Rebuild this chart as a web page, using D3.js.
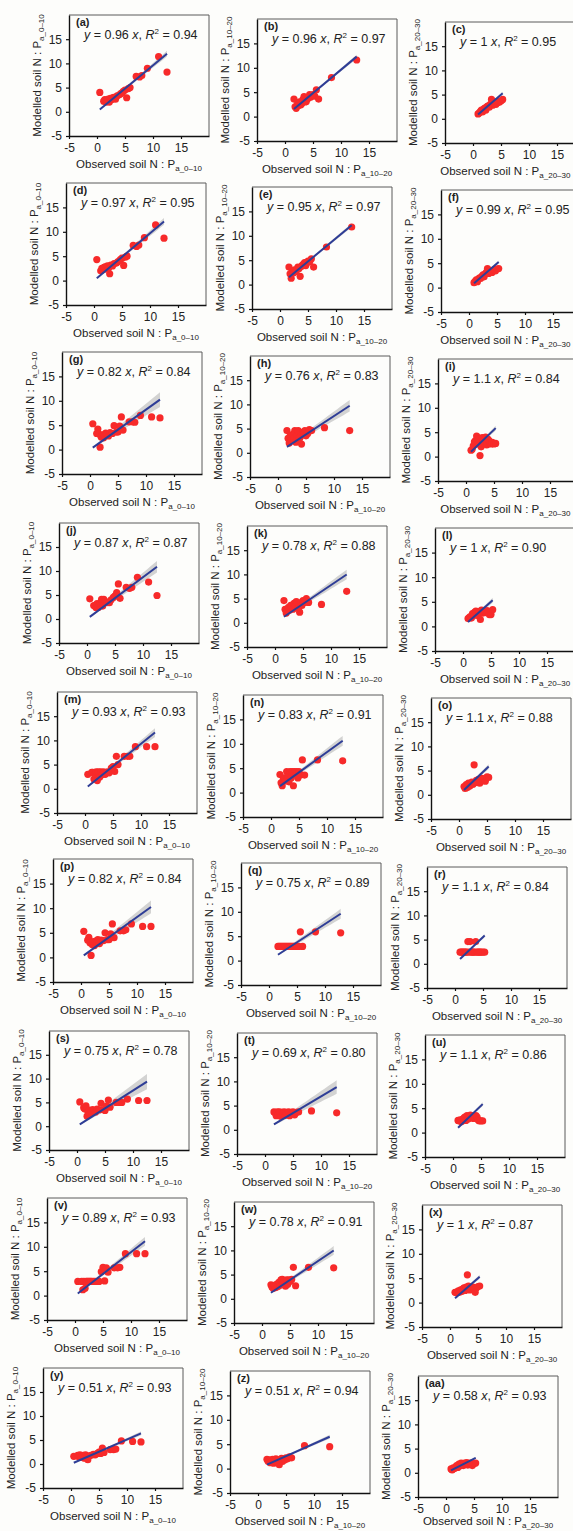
<!DOCTYPE html>
<html>
<head>
<meta charset="utf-8">
<script src="https://cdn.jsdelivr.net/npm/d3@7"></script>
<style>
  html, body { margin: 0; padding: 0; background: #fdfdfb; }
  svg { display: block; font-family: "Liberation Sans", Arial, Helvetica, sans-serif; }
</style>
</head>
<body>
<svg id="chart" width="573" height="1531"></svg>
<script>
// Observed soil N:P for the three sampling depths (cm)
const observed0to10  = [0.5, 1.2, 1.4, 1.6, 1.8, 2.0, 2.2, 2.4, 2.6, 2.8, 3.0, 3.3, 3.6, 4.0, 4.3, 4.7, 5.0, 5.3, 5.6, 5.9, 7.0, 7.6, 8.0, 9.0, 11.0, 12.5];
const observed10to20 = [1.6, 1.8, 2.0, 2.2, 2.4, 2.6, 2.8, 3.0, 3.2, 3.4, 3.6, 3.8, 4.0, 4.2, 4.4, 4.6, 4.8, 5.0, 5.3, 5.6, 6.0, 8.3, 12.8];
const observed20to30 = [0.9, 1.1, 1.3, 1.5, 1.7, 1.9, 2.1, 2.3, 2.5, 2.7, 2.9, 3.1, 3.3, 3.5, 3.7, 3.9, 4.1, 4.3, 4.5, 4.7, 5.0, 5.3];

// Modelled soil N:P, one array per panel
const modelledA  = [4.0, 2.2, 2.5, 2.0, 2.4, 2.6, 2.0, 2.8, 2.5, 2.9, 3.0, 2.6, 3.3, 3.5, 3.8, 4.2, 4.5, 2.9, 4.8, 5.0, 7.3, 7.2, 7.5, 9.0, 11.4, 8.2];
const modelledB  = [3.6, 2.0, 1.7, 2.5, 2.2, 3.0, 2.4, 2.7, 3.5, 4.1, 3.0, 3.1, 3.6, 3.8, 4.5, 4.0, 4.3, 4.5, 4.2, 5.5, 3.6, 8.0, 11.6];
const modelledC  = [1.0, 1.2, 1.5, 1.8, 1.4, 2.0, 2.2, 1.8, 2.5, 2.7, 2.4, 3.0, 4.0, 2.8, 3.2, 3.5, 3.0, 3.3, 3.6, 3.4, 3.7, 4.0];
const modelledD  = [4.3, 2.0, 2.5, 2.2, 2.7, 2.8, 2.4, 3.0, 2.6, 1.4, 3.2, 3.0, 3.5, 3.6, 3.9, 4.3, 4.6, 3.1, 4.8, 5.0, 7.2, 7.0, 7.3, 8.8, 11.4, 8.7];
const modelledE  = [3.6, 2.2, 1.3, 2.6, 2.4, 3.0, 2.7, 3.0, 3.6, 3.3, 1.7, 3.7, 4.0, 4.2, 4.5, 3.9, 4.5, 4.8, 4.7, 5.3, 3.6, 7.7, 11.8];
const modelledF  = [1.0, 1.3, 1.6, 1.2, 1.8, 2.0, 1.9, 2.3, 2.6, 2.2, 2.8, 3.1, 3.9, 2.9, 3.3, 3.4, 3.1, 3.5, 3.7, 3.4, 3.8, 3.9];
const modelledG  = [5.3, 3.3, 4.2, 3.2, 0.5, 2.6, 3.0, 2.4, 2.9, 3.4, 3.2, 2.8, 3.5, 3.3, 4.9, 3.6, 3.6, 4.8, 6.7, 4.0, 5.7, 5.7, 5.6, 7.0, 6.7, 6.5];
const modelledH  = [4.6, 3.0, 2.0, 3.5, 2.5, 3.8, 3.0, 4.6, 2.2, 3.5, 4.6, 2.8, 3.3, 1.8, 4.2, 3.8, 4.6, 3.5, 4.0, 4.8, 4.6, 5.2, 4.6];
const modelledI  = [1.3, 1.5, 2.2, 3.0, 3.3, 4.2, 2.6, 3.6, 0.2, 2.0, 3.9, 2.9, 3.5, 4.0, 2.4, 3.6, 3.3, 2.8, 2.6, 2.9, 2.6, 2.7];
const modelledJ  = [4.2, 2.8, 2.7, 2.4, 3.2, 2.4, 2.9, 3.3, 4.1, 2.7, 4.1, 3.6, 3.4, 3.4, 4.0, 4.5, 4.8, 5.5, 7.3, 4.3, 6.6, 6.4, 6.6, 8.7, 7.7, 4.9];
const modelledK  = [4.6, 2.8, 2.0, 2.4, 3.2, 2.6, 3.6, 3.0, 2.8, 4.0, 3.4, 4.4, 4.2, 3.0, 2.2, 4.0, 3.6, 4.6, 4.2, 5.0, 4.2, 3.8, 6.5];
const modelledL  = [1.6, 1.8, 2.0, 1.7, 2.6, 2.2, 2.9, 3.1, 2.5, 2.2, 3.0, 1.4, 3.3, 2.7, 3.0, 3.1, 2.8, 3.2, 2.9, 2.4, 2.4, 3.4];
const modelledM  = [3.0, 3.4, 3.4, 2.0, 3.0, 3.5, 1.7, 3.5, 2.4, 3.5, 2.9, 3.5, 3.0, 3.5, 3.3, 4.3, 4.6, 3.6, 6.7, 5.0, 6.7, 6.7, 6.7, 8.7, 8.7, 8.7];
const modelledN  = [3.7, 2.0, 1.4, 2.6, 3.0, 2.4, 4.3, 3.3, 2.2, 4.3, 3.0, 4.3, 1.4, 4.3, 3.6, 4.3, 3.0, 4.3, 3.6, 6.7, 3.6, 6.7, 6.5];
const modelledO  = [1.7, 1.3, 2.1, 1.5, 2.4, 1.8, 2.0, 2.6, 2.2, 6.2, 2.5, 3.0, 2.7, 3.2, 2.4, 2.9, 3.4, 3.0, 3.3, 2.8, 3.7, 3.6];
const modelledP  = [5.3, 3.5, 4.1, 3.0, 0.4, 2.6, 3.2, 2.4, 3.3, 3.0, 3.6, 2.8, 3.5, 3.4, 5.0, 3.6, 3.6, 4.8, 6.8, 4.0, 5.4, 5.4, 5.6, 6.8, 6.3, 6.3];
const modelledQ  = [2.9, 2.9, 2.9, 2.9, 2.9, 2.9, 2.9, 2.9, 2.9, 2.9, 2.9, 2.9, 2.9, 2.9, 2.9, 2.9, 2.9, 2.9, 2.9, 5.9, 2.9, 5.9, 5.7];
const modelledR  = [2.4, 2.4, 2.4, 2.4, 2.4, 2.4, 2.4, 4.6, 2.4, 4.6, 2.4, 2.4, 2.4, 2.4, 4.6, 2.4, 2.4, 2.4, 2.4, 2.4, 2.4, 2.4];
const modelledS  = [5.1, 3.9, 3.6, 4.3, 2.1, 3.0, 3.4, 2.6, 3.1, 3.5, 3.3, 3.0, 3.6, 3.4, 4.8, 3.5, 3.3, 4.2, 5.5, 4.0, 5.0, 5.0, 5.0, 5.7, 5.4, 5.4];
const modelledT  = [3.7, 3.5, 2.9, 3.7, 3.2, 3.7, 2.8, 3.6, 3.4, 3.7, 3.0, 3.6, 3.3, 3.7, 2.9, 3.6, 3.4, 3.7, 3.1, 3.6, 3.7, 3.9, 3.5];
const modelledU  = [2.5, 2.4, 2.6, 2.2, 2.7, 2.9, 3.2, 2.5, 3.5, 2.8, 3.3, 3.6, 3.0, 3.4, 2.9, 3.1, 3.5, 3.2, 2.6, 2.4, 2.4, 2.4];
const modelledV  = [2.9, 2.9, 1.2, 2.9, 1.5, 2.9, 2.9, 2.9, 2.9, 2.9, 2.9, 2.9, 2.9, 2.9, 2.9, 4.9, 5.8, 3.0, 5.7, 4.8, 5.7, 5.7, 5.8, 8.6, 8.6, 8.6];
const modelledW  = [2.9, 2.4, 2.2, 2.8, 2.3, 3.0, 2.5, 3.4, 2.8, 3.9, 4.0, 3.3, 3.8, 2.6, 3.9, 3.0, 3.9, 3.6, 4.0, 6.5, 2.7, 6.5, 6.4];
const modelledX  = [2.1, 2.0, 2.2, 2.4, 2.1, 2.6, 2.3, 2.8, 3.0, 2.5, 3.2, 5.7, 3.4, 2.6, 3.0, 2.8, 3.2, 2.9, 2.1, 3.0, 3.3, 3.4];
const modelledY  = [1.6, 1.8, 1.5, 1.9, 1.4, 1.7, 1.8, 1.2, 1.9, 1.5, 0.9, 1.7, 1.8, 2.0, 1.9, 2.2, 2.5, 2.2, 3.3, 2.4, 3.0, 3.0, 3.1, 4.8, 4.7, 4.6];
const modelledZ  = [1.9, 1.5, 1.8, 1.2, 1.4, 1.9, 1.1, 1.6, 2.0, 1.3, 1.8, 0.8, 1.6, 2.1, 1.5, 2.0, 1.8, 2.2, 2.0, 2.4, 2.2, 4.7, 4.5];
const modelledAA = [0.8, 0.6, 1.0, 0.9, 1.2, 1.5, 1.1, 1.8, 1.4, 2.0, 1.7, 1.5, 2.0, 1.8, 2.1, 1.6, 1.9, 2.0, 1.8, 1.5, 1.9, 2.0];

// Panel ids, fitted slopes (y = b x) and R² as printed
const panelIds = ["a","b","c","d","e","f","g","h","i","j","k","l","m","n","o","p","q","r","s","t","u","v","w","x","y","z","aa"];
const slopes   = ["0.96","0.96","1","0.97","0.95","0.99","0.82","0.76","1.1","0.87","0.78","1","0.93","0.83","1.1","0.82","0.75","1.1","0.75","0.69","1.1","0.89","0.78","1","0.51","0.51","0.58"];
const rSquared = ["0.94","0.97","0.95","0.95","0.97","0.95","0.84","0.83","0.84","0.87","0.88","0.90","0.93","0.91","0.88","0.84","0.89","0.84","0.78","0.80","0.86","0.93","0.91","0.87","0.93","0.94","0.93"];
// Half-width of the grey confidence band at the largest observed value
const bandHalfWidth = [0.6,0.4,0.3, 0.7,0.4,0.3, 1.5,1.2,0.5, 1.2,1.0,0.5, 0.9,1.0,0.5, 1.3,1.0,0.3, 1.6,1.4,0.4, 0.9,0.9,0.4, 0.4,0.4,0.2];

const depthSubscripts = ["a_0–10", "a_10–20", "a_20–30"];
const tickValues = [-5, 0, 5, 10, 15];

const observedByDepth = [observed0to10, observed10to20, observed20to30];
const modelledByPanel = [modelledA, modelledB, modelledC, modelledD, modelledE, modelledF, modelledG, modelledH, modelledI,
  modelledJ, modelledK, modelledL, modelledM, modelledN, modelledO, modelledP, modelledQ, modelledR,
  modelledS, modelledT, modelledU, modelledV, modelledW, modelledX, modelledY, modelledZ, modelledAA];

// Layout: left axis x, top edge y, bottom axis y for each panel
const frames = [
  [69, 15, 136], [257, 19, 141], [445, 22, 143],
  [66, 183, 305], [252, 187, 309], [441, 190, 312],
  [62, 352, 474], [250, 356, 477], [438, 359, 481],
  [59, 523, 643], [247, 526, 647], [435, 528, 651],
  [57, 692, 813], [243, 695, 817], [431, 698, 819],
  [53, 859, 982], [241, 863, 985], [427, 867, 988],
  [49, 1031, 1150], [237, 1033, 1154], [425, 1035, 1157],
  [47, 1198, 1320], [234, 1202, 1323], [422, 1205, 1327],
  [43, 1368, 1488], [230, 1371, 1493], [418, 1376, 1497]
];
const panelWidth = 140;
const pageWidth = 573, pageHeight = 1531;

const svg = d3.select("#chart");
const fmt = d => String(d);

panelIds.forEach((id, i) => {
  const [left, top, bottom] = frames[i];
  const col = i % 3;
  const obs = observedByDepth[col];
  const mod = modelledByPanel[i];
  const b = +slopes[i];

  const x = d3.scaleLinear().domain([-5, 20]).range([left, left + panelWidth]);
  const y = d3.scaleLinear().domain([-5, 20]).range([bottom, top]);
  const g = svg.append("g").attr("class", "panel panel-" + id);

  // top and right frame
  g.append("path")
    .attr("d", `M${left},${top}H${left + panelWidth}V${bottom}`)
    .attr("fill", "none").attr("stroke", "#5a5a5a").attr("stroke-width", 1);

  // confidence band and fitted line through the origin
  const [xmin, xmax] = d3.extent(obs);
  const hw = bandHalfWidth[i];
  const xs = d3.range(0, 21).map(k => xmin + (xmax - xmin) * k / 20);
  const band = d3.area()
    .x(v => x(v))
    .y0(v => y(b * v - hw * v / xmax))
    .y1(v => y(b * v + hw * v / xmax));
  g.append("path").datum(xs).attr("d", band)
    .attr("fill", "#c4c4c4").attr("fill-opacity", 0.75);

  g.selectAll("circle").data(obs.map((v, k) => [v, mod[k]])).join("circle")
    .attr("cx", d => x(d[0])).attr("cy", d => y(d[1])).attr("r", 3.6)
    .attr("fill", "#f72a2a");

  g.append("path").datum([xmin, xmax])
    .attr("d", d3.line().x(v => x(v)).y(v => y(b * v)))
    .attr("stroke", "#2e3d96").attr("stroke-width", 2).attr("fill", "none");

  // axes
  const ax = g.append("g").attr("transform", `translate(0,${bottom})`)
    .call(d3.axisBottom(x).tickValues(tickValues).tickFormat(fmt).tickSize(3).tickSizeOuter(0).tickPadding(4));
  const ay = g.append("g").attr("transform", `translate(${left},0)`)
    .call(d3.axisLeft(y).tickValues(tickValues).tickFormat(fmt).tickSize(3).tickSizeOuter(0).tickPadding(4));
  [ax, ay].forEach(a => {
    a.select(".domain").attr("stroke", "#111").attr("stroke-width", 1.4);
    a.selectAll(".tick line").attr("stroke", "#111").attr("stroke-width", 1.2);
    a.selectAll(".tick text").attr("font-size", 12).attr("fill", "#222")
      .attr("font-family", "'Liberation Sans', Arial, sans-serif");
  });

  // panel tag
  g.append("text").attr("x", left + 7).attr("y", top + 11)
    .attr("font-size", 11).attr("font-weight", "bold").attr("fill", "#222")
    .text(`(${id})`);

  // regression equation
  const eq = g.append("text").attr("x", left + 15).attr("y", top + 24)
    .attr("font-size", 12.5).attr("fill", "#222");
  eq.append("tspan").attr("font-style", "italic").text("y");
  eq.append("tspan").text(` = ${slopes[i]} `);
  eq.append("tspan").attr("font-style", "italic").text("x");
  eq.append("tspan").text(", ");
  eq.append("tspan").attr("font-style", "italic").text("R");
  eq.append("tspan").attr("font-size", 8).attr("dy", -5).text("2");
  eq.append("tspan").attr("dy", 5).text(` = ${rSquared[i]}`);

  // axis titles, nudged inside the page where they would run off it
  const xt = g.append("text").attr("x", left + panelWidth / 2).attr("y", bottom + 32)
    .attr("text-anchor", "middle").attr("font-size", 11.5).attr("fill", "#222");
  xt.append("tspan").text("Observed soil N : P");
  xt.append("tspan").attr("font-size", 8).attr("dy", 3).text(depthSubscripts[col]);
  const bb = xt.node().getBBox();
  let dx = 0, dy = 0;
  if (bb.x + bb.width > pageWidth - 2) dx = pageWidth - 2 - (bb.x + bb.width);
  if (bb.y + bb.height > pageHeight - 1) dy = pageHeight - 1 - (bb.y + bb.height);
  xt.attr("transform", `translate(${dx},${dy})`);

  const cy = (top + bottom) / 2;
  const yt = g.append("text")
    .attr("transform", `translate(${left - 28},${cy}) rotate(-90)`)
    .attr("text-anchor", "middle").attr("font-size", 11.5).attr("fill", "#222");
  yt.append("tspan").text("Modelled soil N : P");
  yt.append("tspan").attr("font-size", 8).attr("dy", 3).text(depthSubscripts[col]);
});
</script>
</body>
</html>
